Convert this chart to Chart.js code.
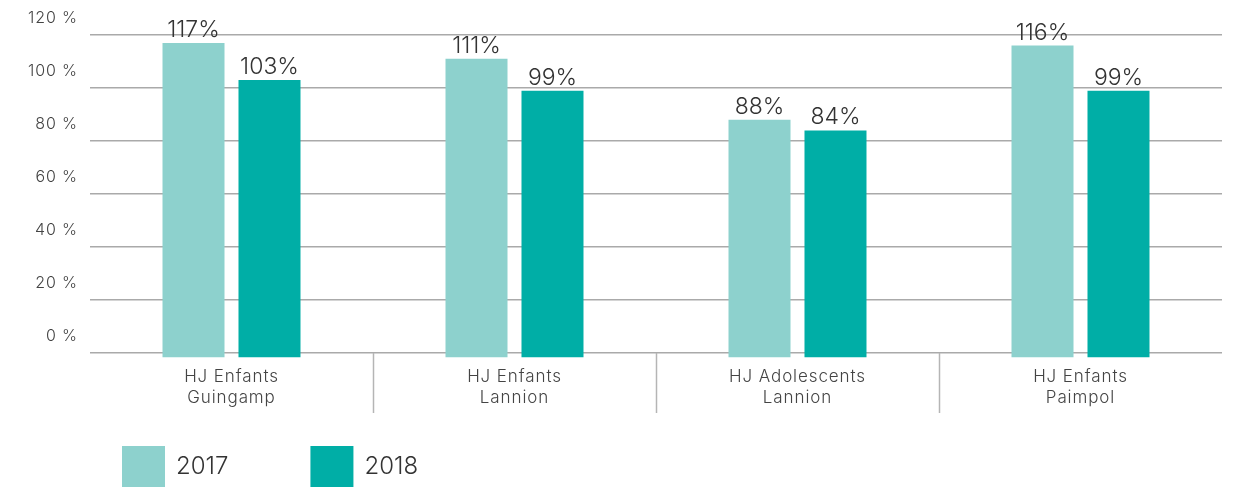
<!DOCTYPE html>
<html lang="fr">
<head>
<meta charset="UTF-8">
<title>Taux d'occupation des hôpitaux de jour</title>
<script src="https://cdn.jsdelivr.net/npm/chart.js@4/dist/chart.umd.min.js"></script>
<style>
  html, body { margin: 0; padding: 0; background: #fff; }
  #wrap { width: 1240px; height: 487px; position: relative; }
</style>
</head>
<body>
<div id="wrap"><canvas id="chart"></canvas></div>
<script>
// données
const categories = [
  ['HJ Enfants', 'Guingamp'],
  ['HJ Enfants', 'Lannion'],
  ['HJ Adolescents', 'Lannion'],
  ['HJ Enfants', 'Paimpol']
];
const years = ['2017', '2018'];
const taux2017 = [117, 111, 88, 116];
const taux2018 = [103, 99, 84, 99];
const yTicks = [0, 20, 40, 60, 80, 100, 120];

const colors = ['#8dd1cd', '#00aea6'];
const FONT = 'Inter, "DejaVu Sans", sans-serif';
const BASE = -1.7; // les barres descendent un peu sous la ligne 0

// un peu d'espacement pour les libellés des axes
const spacing = {
  id: 'spacing',
  beforeDraw(chart) { chart.ctx.letterSpacing = '0.9px'; },
  afterDraw(chart) { chart.ctx.letterSpacing = '0px'; }
};

// étiquettes de valeur au-dessus des barres
const valueLabels = {
  id: 'valueLabels',
  afterDatasetsDraw(chart) {
    const ctx = chart.ctx;
    ctx.save();
    ctx.letterSpacing = '0px';
    ctx.font = '300 23px ' + FONT;
    ctx.fillStyle = '#333';
    ctx.textAlign = 'center';
    ctx.textBaseline = 'alphabetic';
    chart.data.datasets.forEach((ds, i) => {
      chart.getDatasetMeta(i).data.forEach((bar, j) => {
        ctx.fillText(ds.data[j] + '%', bar.x, bar.y - 6);
      });
    });
    ctx.restore();
  }
};

// séparateurs verticaux entre les catégories
const separators = {
  id: 'separators',
  afterDraw(chart) {
    const x = chart.scales.x, y = chart.scales.y;
    const ctx = chart.ctx;
    const top = y.getPixelForValue(0);
    ctx.save();
    ctx.strokeStyle = '#b5b5b5';
    ctx.lineWidth = 1.5;
    for (let i = 1; i < categories.length; i++) {
      const px = Math.round((x.getPixelForValue(i - 1) + x.getPixelForValue(i)) / 2) + 0.5;
      ctx.beginPath();
      ctx.moveTo(px, top);
      ctx.lineTo(px, top + 60);
      ctx.stroke();
    }
    ctx.restore();
  }
};

// légende en bas à gauche
const bottomLegend = {
  id: 'bottomLegend',
  afterDraw(chart) {
    const ctx = chart.ctx;
    ctx.save();
    ctx.letterSpacing = '0px';
    ctx.font = '300 24px ' + FONT;
    ctx.textBaseline = 'middle';
    let left = 122;
    chart.data.datasets.forEach(ds => {
      ctx.fillStyle = ds.backgroundColor;
      ctx.fillRect(left, 446, 43, 41);
      ctx.fillStyle = '#333';
      ctx.fillText(ds.label, left + 54, 467);
      left += 54 + ctx.measureText(ds.label).width + 82;
    });
    ctx.restore();
  }
};

new Chart(document.getElementById('chart'), {
  type: 'bar',
  data: {
    labels: categories,
    datasets: [
      { label: years[0], data: taux2017, backgroundColor: colors[0], base: BASE },
      { label: years[1], data: taux2018, backgroundColor: colors[1], base: BASE }
    ]
  },
  options: {
    responsive: true,
    maintainAspectRatio: false,
    animation: false,
    categoryPercentage: 0.537,
    barPercentage: 0.816,
    layout: { padding: { top: 35, right: 18, bottom: 77, left: 0 } },
    plugins: {
      legend: { display: false },
      tooltip: { enabled: false }
    },
    scales: {
      x: {
        grid: { display: false },
        border: { display: false },
        ticks: {
          color: '#444',
          padding: 1,
          font: { family: FONT, size: 17, weight: 300, lineHeight: 1.25 }
        }
      },
      y: {
        min: BASE,
        max: 120,
        afterBuildTicks(scale) {
          scale.ticks = yTicks.map(v => ({ value: v }));
        },
        afterFit(scale) { scale.width = 90; },
        grid: { color: '#aaaaaa', lineWidth: 1.5, drawTicks: false },
        border: { display: false },
        ticks: {
          color: '#444',
          padding: 12,
          labelOffset: -17,
          font: { family: FONT, size: 16, weight: 300 },
          callback: v => v + ' %'
        }
      }
    }
  },
  plugins: [spacing, valueLabels, separators, bottomLegend]
});
</script>
</body>
</html>
